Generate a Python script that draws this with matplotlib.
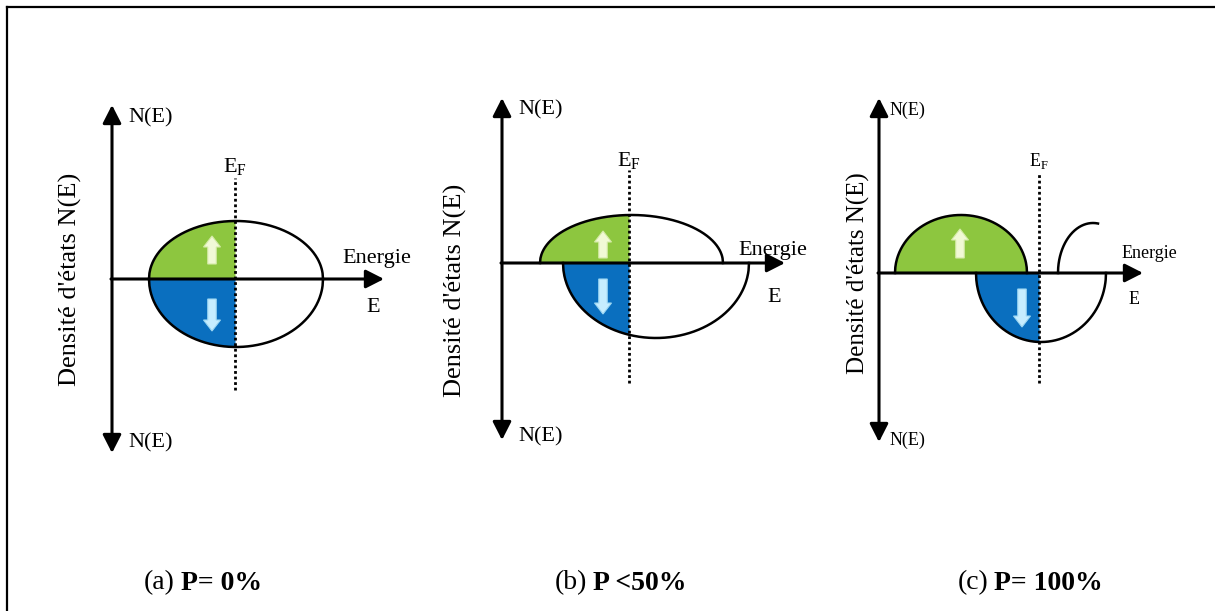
import matplotlib
matplotlib.use('Agg')
import matplotlib.pyplot as plt
import numpy as np
from matplotlib.lines import Line2D

plt.rcParams['font.family'] = ['Liberation Serif', 'DejaVu Serif']
plt.rcParams['mathtext.fontset'] = 'custom'
plt.rcParams['mathtext.rm'] = 'Liberation Serif'

# ---- data (energy / density in arbitrary units, origin = axes crossing) ----
panel_tags = ['(a)', '(b)', '(c)']
captions = ['P= 0%', 'P <50%', 'P= 100%']
fermi_level = [1.23, 1.27, 1.60]
# spin-up bands: (E start, E end, peak DOS, E drawn up to)
up_bands = [
    [(0.37, 2.11, 0.58, 2.11)],
    [(0.38, 2.21, 0.48, 2.21)],
    [(0.16, 1.48, 0.58, 1.48), (1.79, 2.49, 0.50, 2.19)],
]
# spin-down bands: (E start, E end, peak DOS)
down_bands = [
    [(0.37, 2.11, 0.68)],
    [(0.61, 2.47, 0.75)],
    [(0.97, 2.27, 0.69)],
]
ylabel_text = "Densité d'états N(E)"

# ---- layout ----
W, H = 1215, 611
origins = [(112, 279), (502, 263), (879, 273)]   # pixel position of axes crossing
axis_up = [1.74, 1.65, 1.75]
axis_down = [1.74, 1.77, 1.69]
axis_right = [2.72, 2.83, 2.64]
ef_top = [1.01, 0.93, 1.00]
ef_bot = [1.11, 1.20, 1.10]
up_arrow = [(1.00, 0.15, 0.43), (1.01, 0.05, 0.32), (0.81, 0.15, 0.44)]
down_arrow = [(1.00, -0.20, -0.52), (1.01, -0.16, -0.51), (1.43, -0.16, -0.54)]
nE_x = [0.16, 0.16, 0.11]
nE_top_y = [1.61, 1.53, 1.63]
nE_bot_y = [-1.64, -1.74, -1.67]
ef_lab_y = [1.12, 1.02, 1.12]
energie_pos = [(2.65, 0.21), (2.71, 0.12), (2.70, 0.20)]
e_pos = [(2.61, -0.28), (2.72, -0.35), (2.55, -0.27)]
ylab_pos = [(-0.42, 0.0), (-0.47, -0.27), (-0.21, 0.0)]
small_font = [16, 16, 13]
energie_font = [16, 16, 13]
ylab_font = [19, 19, 18]
tag_right = [175, 587, 988]
caption_y = 583

green = '#8dc63f'
blue = '#0a6fbf'


def dos(E, lo, hi, h):
    c = (lo + hi) / 2
    a = (hi - lo) / 2
    return h * np.sqrt(np.clip(1 - ((E - c) / a) ** 2, 0, None))


fig = plt.figure(figsize=(W / 100, H / 100), dpi=100)

for i in range(3):
    ox, oy = origins[i]
    L, R, T, B = ox - 90, ox + 330, oy - 190, oy + 190
    ax = fig.add_axes([L / W, (H - B) / H, (R - L) / W, (B - T) / H])
    ax.set_xlim(-0.9, 3.3)
    ax.set_ylim(-1.9, 1.9)
    ax.axis('off')
    ef = fermi_level[i]

    # spin-up bands
    for lo, hi, h, shown in up_bands[i]:
        E = np.linspace(lo, shown, 400)
        ax.plot(E, dos(E, lo, hi, h), color='k', lw=1.8, zorder=2)
        if ef > lo:
            Ef = np.linspace(lo, min(ef, shown), 400)
            ax.fill_between(Ef, 0, dos(Ef, lo, hi, h), color=green, lw=0, zorder=1)

    # spin-down bands
    for lo, hi, h in down_bands[i]:
        E = np.linspace(lo, hi, 400)
        ax.plot(E, -dos(E, lo, hi, h), color='k', lw=1.8, zorder=2)
        if ef > lo:
            Ef = np.linspace(lo, min(ef, hi), 400)
            ax.fill_between(Ef, 0, -dos(Ef, lo, hi, h), color=blue, lw=0, zorder=1)

    # axes with arrows
    aprops = dict(arrowstyle='-|>,head_length=0.55,head_width=0.28', lw=2.2,
                  color='k', shrinkA=0, shrinkB=0, mutation_scale=20)
    ax.annotate('', xy=(0, axis_up[i]), xytext=(0, 0), arrowprops=aprops, zorder=3)
    ax.annotate('', xy=(0, -axis_down[i]), xytext=(0, 0), arrowprops=aprops, zorder=3)
    ax.annotate('', xy=(axis_right[i], 0), xytext=(-0.01, 0), arrowprops=aprops, zorder=3)

    # Fermi level
    ax.plot([ef, ef], [-ef_bot[i], ef_top[i]], color='k', lw=2, ls=(0, (1, 1)), zorder=4)

    # spin arrows
    x, y0, y1 = up_arrow[i]
    ax.arrow(x, y0, 0, y1 - y0, width=0.085, head_width=0.17, head_length=0.11,
             length_includes_head=True, fc='#f1f9d6', ec='#d4eaa6', lw=0.8, zorder=5)
    x, y0, y1 = down_arrow[i]
    ax.arrow(x, y0, 0, y1 - y0, width=0.085, head_width=0.17, head_length=0.11,
             length_includes_head=True, fc='#c6edff', ec='#9bd6f2', lw=0.8, zorder=5)

    # labels
    ax.text(nE_x[i], nE_top_y[i], 'N(E)', fontsize=small_font[i], ha='left', va='center')
    ax.text(nE_x[i], nE_bot_y[i], 'N(E)', fontsize=small_font[i], ha='left', va='center')
    ax.text(ef, ef_lab_y[i], r'E$_\mathrm{F}$', fontsize=small_font[i], ha='center', va='center')
    ax.text(*energie_pos[i], 'Energie', fontsize=energie_font[i], ha='center', va='center')
    ax.text(*e_pos[i], 'E', fontsize=small_font[i], ha='center', va='center')
    ax.text(*ylab_pos[i], ylabel_text, fontsize=ylab_font[i], rotation=90,
            ha='center', va='center')

    # captions
    fig.text(tag_right[i] / W, (H - caption_y) / H, panel_tags[i], fontsize=20,
             ha='right', va='center')
    fig.text((tag_right[i] + 6) / W, (H - caption_y) / H, captions[i], fontsize=20,
             fontweight='bold', ha='left', va='center')

# frame (top and left edges only)
fig.add_artist(Line2D([7 / W, 7 / W], [0, (H - 7) / H], color='k', lw=1.6))
fig.add_artist(Line2D([7 / W, 1], [(H - 7) / H, (H - 7) / H], color='k', lw=1.6))

fig.savefig('out.png', dpi=100, facecolor='white')
